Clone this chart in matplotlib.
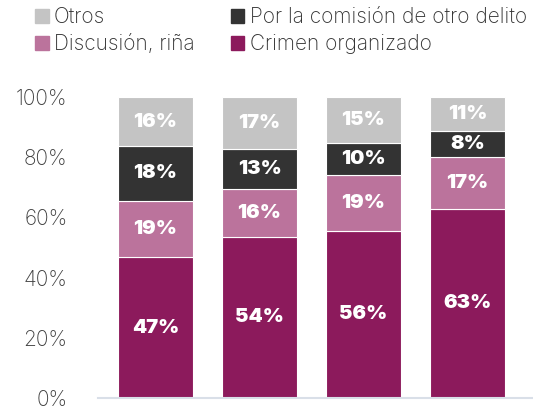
import matplotlib
matplotlib.use("Agg")
import matplotlib.pyplot as plt
from matplotlib.patches import Patch

# Data (shares, in %)
categories = ["A", "B", "C", "D"]
crimen = [46.8, 53.5, 55.5, 62.8]
discusion = [18.7, 15.9, 18.7, 17.4]
delito = [18.2, 13.3, 10.4, 8.4]
otros = [16.3, 17.3, 15.4, 11.4]

series = [
    ("Crimen organizado", crimen, "#8c1a5c"),
    ("Discusión, riña", discusion, "#bb739c"),
    ("Por la comisión de otro delito", delito, "#333333"),
    ("Otros", otros, "#c4c4c4"),
]

plt.rcParams["font.family"] = ["Inter", "DejaVu Sans"]

fig = plt.figure(figsize=(5.33, 4.09), dpi=100)
ax = fig.add_axes([98 / 533, 1 - 398 / 409, 435 / 533, 301 / 409])

x = range(len(categories))
bottom = [0.0] * len(categories)
for name, vals, color in series:
    ax.bar(x, vals, bottom=bottom, width=0.72, color=color,
           edgecolor="white", linewidth=0.8, label=name)
    for i, v in enumerate(vals):
        ax.text(i, bottom[i] + v / 2, f"{round(v)}%", ha="center", va="center",
                color="white", fontsize=14.5, fontweight="black")
    bottom = [b + v for b, v in zip(bottom, vals)]

ax.set_ylim(0, 100)
ax.set_xlim(-0.553, 3.63)
ax.set_yticks([0, 20, 40, 60, 80, 100])
ax.set_yticklabels([f"{t}%" for t in [0, 20, 40, 60, 80, 100]])
ax.tick_params(axis="y", length=0, pad=22, labelsize=15, labelcolor="#404040")
for lbl in ax.get_yticklabels():
    lbl.set_fontweight("light")
ax.set_xticks([])
for s in ["top", "right", "left"]:
    ax.spines[s].set_visible(False)
ax.spines["bottom"].set_color("#d9dfe8")
ax.spines["bottom"].set_linewidth(1.5)

handles = [
    Patch(color="#c4c4c4", label="Otros"),
    Patch(color="#bb739c", label="Discusión, riña"),
    Patch(color="#333333", label="Por la comisión de otro delito"),
    Patch(color="#8c1a5c", label="Crimen organizado"),
]
leg = fig.legend(handles=handles, ncol=2, loc="upper left",
                 bbox_to_anchor=(33 / 533, 1 - 5 / 409), frameon=False,
                 fontsize=15, handlelength=0.65, handleheight=0.65,
                 handletextpad=0.25, columnspacing=1.75, labelspacing=0.35,
                 borderaxespad=0, borderpad=0.1)
for t in leg.get_texts():
    t.set_color("#333333")
    t.set_fontweight("light")

fig.savefig("out.png", dpi=100)
